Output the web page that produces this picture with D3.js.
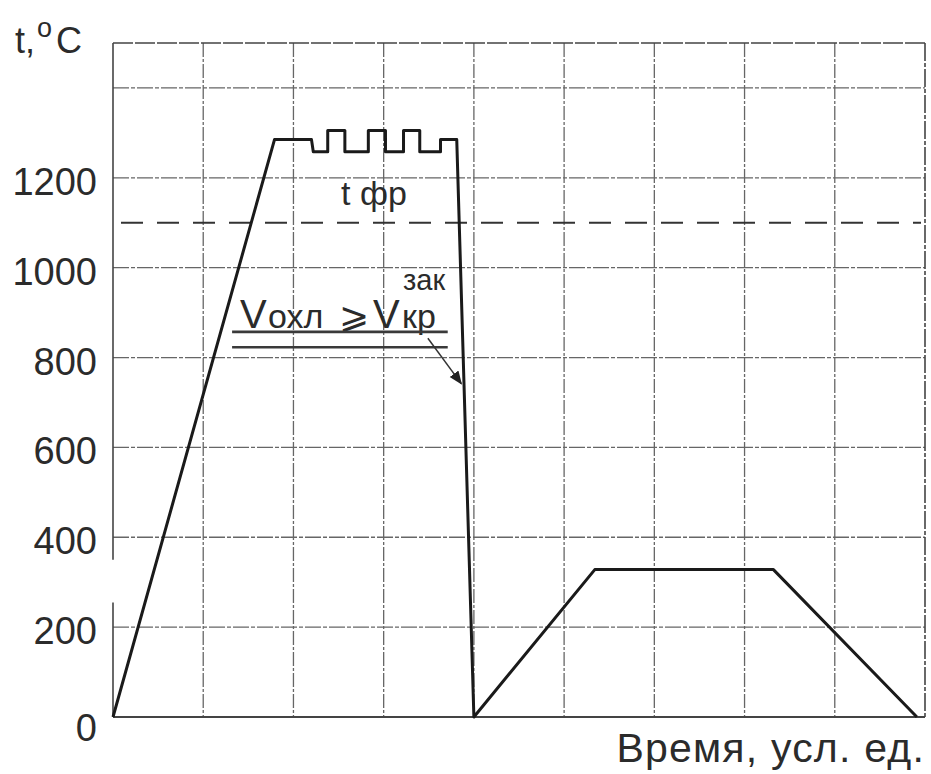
<!DOCTYPE html>
<html>
<head>
<meta charset="utf-8">
<script src="https://cdn.jsdelivr.net/npm/d3@7"></script>
<style>
  html, body { margin: 0; padding: 0; background: #fff; }
  svg { display: block; font-family: "Liberation Sans", Arial, sans-serif; }
</style>
</head>
<body>
<svg id="chart" width="931" height="774"></svg>
<script>
// time in conventional units, temperature in °C
const timeValues = [0, 1.79, 2.2, 2.22, 2.38, 2.38, 2.57, 2.57, 2.83, 2.83, 3.02, 3.02, 3.22, 3.22, 3.4, 3.4, 3.63, 3.63, 3.81, 4.0, 5.34, 7.32, 8.91];
const tempValues = [0, 1285, 1285, 1258, 1258, 1305, 1305, 1258, 1258, 1305, 1305, 1258, 1258, 1305, 1305, 1258, 1258, 1285, 1285, 0, 328, 328, 0];

const yGrid = [0, 200, 400, 600, 800, 1000, 1200, 1400];
const yLabels = ["0", "200", "400", "600", "800", "1000", "1200"];
const xGrid = [0, 1, 2, 3, 4, 5, 6, 7, 8, 9];
const tPhase = 1100; // dashed line, t фр

const svg = d3.select("#chart");
const x = d3.scaleLinear().domain([0, 9]).range([113, 925]);
const y = d3.scaleLinear().domain([0, 1500]).range([717, 43]);

const ink = "#2b2b2b";

// grid
const grid = svg.append("g").attr("stroke", "#666").attr("stroke-width", 1.3).attr("fill", "none");
grid.selectAll("line.v")
  .data(xGrid.slice(1, -1))
  .enter().append("line")
  .attr("x1", d => x(d)).attr("x2", d => x(d))
  .attr("y1", y(1500)).attr("y2", y(0))
  .attr("stroke-dasharray", "14,2,3,2");
grid.selectAll("line.h")
  .data(yGrid.slice(1))
  .enter().append("line")
  .attr("x1", x(0)).attr("x2", x(9))
  .attr("y1", d => y(d)).attr("y2", d => y(d))
  .attr("stroke-dasharray", "16,2,4,2");

// frame
const frame = svg.append("g").attr("stroke", "#444").attr("stroke-width", 1.6).attr("fill", "none");
frame.append("line").attr("x1", x(0)).attr("x2", x(9)).attr("y1", y(1500)).attr("y2", y(1500))
  .attr("stroke-dasharray", "20,2");
frame.append("line").attr("x1", x(9)).attr("x2", x(9)).attr("y1", y(1500)).attr("y2", y(0))
  .attr("stroke-dasharray", "18,2,4,2");
frame.append("line").attr("x1", x(0)).attr("x2", x(0)).attr("y1", y(1500)).attr("y2", y(350));
frame.append("line").attr("x1", x(0)).attr("x2", x(0)).attr("y1", y(255)).attr("y2", y(0));
frame.append("line").attr("x1", x(0)).attr("x2", x(9)).attr("y1", y(0)).attr("y2", y(0))
  .attr("stroke-width", 2.2);

// dashed 1100 line
svg.append("line")
  .attr("x1", x(0) + 8).attr("x2", x(9) - 4)
  .attr("y1", y(tPhase)).attr("y2", y(tPhase))
  .attr("stroke", "#333").attr("stroke-width", 2)
  .attr("stroke-dasharray", "22,14");

// tick labels
svg.append("g").selectAll("text")
  .data(yLabels)
  .enter().append("text")
  .attr("x", 97)
  .attr("y", d => y(+d) + (d === "0" ? 24 : 17))
  .attr("text-anchor", "end")
  .attr("font-size", 38)
  .attr("fill", ink)
  .text(d => d);

// axis titles
const yTitle = svg.append("text").attr("y", 53).attr("font-size", 36).attr("fill", ink);
yTitle.append("tspan").attr("x", 15).text("t,");
yTitle.append("tspan").attr("x", 37).attr("y", 37).attr("font-size", 27).text("o");
yTitle.append("tspan").attr("x", 56).attr("y", 53).text("C");

svg.append("text")
  .attr("x", 925).attr("y", 762)
  .attr("text-anchor", "end")
  .attr("font-size", 41)
  .attr("letter-spacing", 1.2)
  .attr("fill", ink)
  .text("Время, усл. ед.");

// temperature curve
const line = d3.line().x(d => x(d[0])).y(d => y(d[1]));
svg.append("path")
  .datum(d3.zip(timeValues, tempValues))
  .attr("d", line)
  .attr("fill", "none")
  .attr("stroke", "#1a1a1a")
  .attr("stroke-width", 3)
  .attr("stroke-linejoin", "round");

// annotations
svg.append("text")
  .attr("x", 374).attr("y", 205)
  .attr("text-anchor", "middle")
  .attr("font-size", 34)
  .attr("fill", ink)
  .text("t фр");

const v = svg.append("text").attr("y", 328).attr("fill", ink).attr("font-size", 40);
v.append("tspan").attr("x", 240).text("V");
v.append("tspan").attr("x", 268).attr("font-size", 34).text("охл");
v.append("tspan").attr("x", 339).attr("font-size", 36).text("⩾");
v.append("tspan").attr("x", 373).text("V");
v.append("tspan").attr("x", 402).attr("font-size", 34).text("кр");
svg.append("text")
  .attr("x", 403).attr("y", 290)
  .attr("font-size", 29).attr("fill", ink)
  .text("зак");

const under = svg.append("g").attr("stroke", "#3a3a3a").attr("stroke-width", 2.6);
[857, 823].forEach(t => {
  under.append("line").attr("x1", x(1.32)).attr("x2", x(3.71)).attr("y1", y(t)).attr("y2", y(t));
});

// leader with arrowhead
svg.append("defs").append("marker")
  .attr("id", "arr").attr("viewBox", "0 0 10 10").attr("refX", 9).attr("refY", 5)
  .attr("markerWidth", 9).attr("markerHeight", 9).attr("orient", "auto")
  .append("path").attr("d", "M0,1L10,5L0,9Z").attr("fill", "#222");
svg.append("line")
  .attr("x1", x(3.49)).attr("y1", y(843))
  .attr("x2", x(3.86)).attr("y2", y(742))
  .attr("stroke", "#333").attr("stroke-width", 1.5)
  .attr("marker-end", "url(#arr)");
</script>
</body>
</html>
